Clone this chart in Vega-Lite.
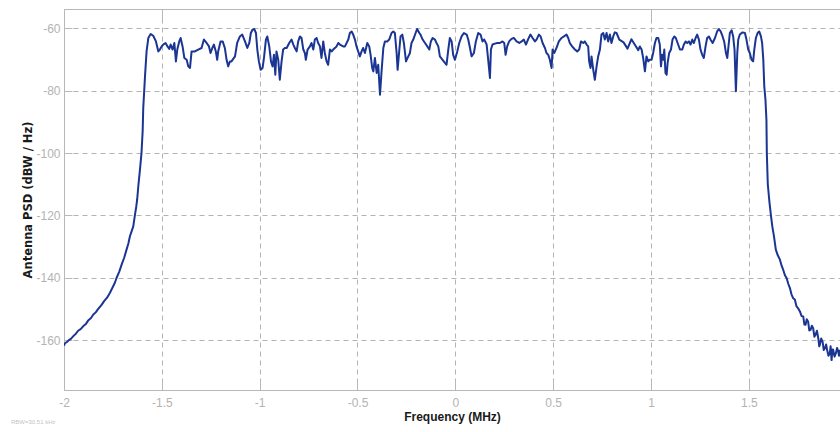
{
  "$schema": "https://vega.github.io/schema/vega-lite/v6.json",
  "width": 776,
  "height": 381,
  "autosize": {"type": "none"},
  "padding": {"left": 64, "top": 9, "right": 0, "bottom": 42},
  "background": "white",
  "config": {"view": {"stroke": null}},
  "title": {"text": "RBW=30.51 kHz", "orient": "bottom", "anchor": "start", "fontSize": 6, "color": "#c4c4c4", "font": "Liberation Sans", "fontWeight": "normal", "dx": -12, "offset": -3},
  "data": {"values": [
    {"f":-2.000,"p":-161.8},{"f":-1.995,"p":-161.0},{"f":-1.985,"p":-160.6},{"f":-1.975,"p":-160.0},{"f":-1.965,"p":-159.6},{"f":-1.952,"p":-158.7},{"f":-1.940,"p":-158.0},{"f":-1.928,"p":-157.0},{"f":-1.915,"p":-156.5},{"f":-1.901,"p":-155.5},{"f":-1.888,"p":-154.8},{"f":-1.875,"p":-153.6},{"f":-1.862,"p":-152.9},{"f":-1.850,"p":-151.8},{"f":-1.838,"p":-151.1},{"f":-1.825,"p":-150.0},{"f":-1.807,"p":-148.6},{"f":-1.795,"p":-147.5},{"f":-1.780,"p":-146.4},{"f":-1.765,"p":-144.8},{"f":-1.750,"p":-142.9},{"f":-1.740,"p":-141.6},{"f":-1.731,"p":-140.0},{"f":-1.718,"p":-138.1},{"f":-1.705,"p":-135.7},{"f":-1.692,"p":-133.5},{"f":-1.680,"p":-130.9},{"f":-1.671,"p":-129.0},{"f":-1.663,"p":-126.7},{"f":-1.655,"p":-125.2},{"f":-1.646,"p":-123.5},{"f":-1.637,"p":-119.7},{"f":-1.631,"p":-117.3},{"f":-1.626,"p":-114.9},{"f":-1.620,"p":-110.5},{"f":-1.612,"p":-105.5},{"f":-1.604,"p":-100.0},{"f":-1.598,"p":-93.0},{"f":-1.595,"p":-85.6},{"f":-1.586,"p":-75.4},
    {"f":-1.578,"p":-67.4},{"f":-1.569,"p":-63.1},{"f":-1.557,"p":-61.8},{"f":-1.544,"p":-62.4},{"f":-1.530,"p":-64.2},{"f":-1.518,"p":-67.4},{"f":-1.510,"p":-66.8},{"f":-1.501,"p":-65.8},{"f":-1.493,"p":-65.2},{"f":-1.481,"p":-64.7},{"f":-1.471,"p":-65.8},{"f":-1.462,"p":-66.6},{"f":-1.455,"p":-65.2},{"f":-1.445,"p":-66.8},{"f":-1.436,"p":-64.7},{"f":-1.428,"p":-70.6},{"f":-1.421,"p":-66.8},{"f":-1.411,"p":-64.2},{"f":-1.404,"p":-63.1},{"f":-1.394,"p":-65.8},{"f":-1.385,"p":-69.5},{"f":-1.373,"p":-70.1},{"f":-1.365,"p":-72.2},{"f":-1.356,"p":-72.7},{"f":-1.348,"p":-67.4},{"f":-1.331,"p":-67.4},{"f":-1.314,"p":-66.8},{"f":-1.297,"p":-66.3},{"f":-1.285,"p":-63.6},{"f":-1.271,"p":-64.7},{"f":-1.259,"p":-65.8},{"f":-1.251,"p":-67.9},{"f":-1.242,"p":-66.3},{"f":-1.234,"p":-65.2},{"f":-1.224,"p":-67.4},{"f":-1.217,"p":-70.1},{"f":-1.212,"p":-67.4},{"f":-1.200,"p":-64.2},{"f":-1.189,"p":-64.2},{"f":-1.178,"p":-66.3},{"f":-1.169,"p":-70.1},{"f":-1.161,"p":-72.2},{"f":-1.152,"p":-70.6},{"f":-1.144,"p":-70.6},{"f":-1.126,"p":-69.0},{"f":-1.115,"p":-64.7},{"f":-1.101,"p":-62.6},{"f":-1.089,"p":-62.0},{"f":-1.075,"p":-64.2},{"f":-1.063,"p":-66.3},{"f":-1.053,"p":-64.7},{"f":-1.045,"p":-61.5},{"f":-1.036,"p":-60.4},{"f":-1.028,"p":-60.2},{"f":-1.019,"p":-61.5},{"f":-1.012,"p":-66.8},{"f":-1.004,"p":-70.6},{"f":-0.995,"p":-73.3},{"f":-0.985,"p":-72.7},{"f":-0.978,"p":-69.5},{"f":-0.968,"p":-63.6},{"f":-0.961,"p":-62.6},{"f":-0.951,"p":-65.8},{"f":-0.942,"p":-70.6},{"f":-0.934,"p":-72.2},{"f":-0.927,"p":-68.5},{"f":-0.920,"p":-74.9},{"f":-0.914,"p":-67.4},{"f":-0.905,"p":-70.1},{"f":-0.897,"p":-76.5},{"f":-0.888,"p":-70.6},{"f":-0.880,"p":-66.8},{"f":-0.871,"p":-66.3},{"f":-0.862,"p":-66.3},{"f":-0.849,"p":-64.7},{"f":-0.837,"p":-63.6},{"f":-0.828,"p":-65.2},{"f":-0.820,"p":-66.3},{"f":-0.811,"p":-67.4},{"f":-0.803,"p":-64.2},{"f":-0.794,"p":-62.6},{"f":-0.786,"p":-63.1},{"f":-0.777,"p":-66.8},{"f":-0.769,"p":-67.9},{"f":-0.764,"p":-70.1},{"f":-0.755,"p":-66.8},{"f":-0.743,"p":-65.8},{"f":-0.735,"p":-64.7},{"f":-0.726,"p":-66.8},{"f":-0.718,"p":-63.6},{"f":-0.709,"p":-63.1},{"f":-0.701,"p":-64.7},{"f":-0.692,"p":-65.8},{"f":-0.684,"p":-69.5},{"f":-0.675,"p":-64.2},{"f":-0.667,"p":-67.9},{"f":-0.658,"p":-70.6},{"f":-0.650,"p":-71.7},{"f":-0.641,"p":-66.8},{"f":-0.632,"p":-67.4},{"f":-0.624,"p":-66.8},{"f":-0.607,"p":-65.8},{"f":-0.598,"p":-64.7},{"f":-0.590,"p":-65.2},{"f":-0.573,"p":-65.8},{"f":-0.564,"p":-65.8},{"f":-0.547,"p":-63.6},{"f":-0.539,"p":-61.5},{"f":-0.530,"p":-61.0},{"f":-0.522,"p":-62.0},{"f":-0.513,"p":-63.6},{"f":-0.505,"p":-65.8},{"f":-0.488,"p":-69.0},{"f":-0.479,"p":-67.4},{"f":-0.471,"p":-66.3},{"f":-0.462,"p":-67.9},{"f":-0.450,"p":-64.7},{"f":-0.440,"p":-65.8},{"f":-0.433,"p":-68.5},{"f":-0.425,"p":-72.7},
    {"f":-0.419,"p":-73.8},{"f":-0.411,"p":-69.5},{"f":-0.402,"p":-74.3},{"f":-0.394,"p":-71.7},{"f":-0.385,"p":-81.3},{"f":-0.377,"p":-73.8},{"f":-0.368,"p":-66.3},{"f":-0.360,"p":-64.2},{"f":-0.348,"p":-64.2},{"f":-0.338,"p":-63.6},{"f":-0.326,"p":-61.5},{"f":-0.317,"p":-61.0},{"f":-0.309,"p":-61.5},{"f":-0.300,"p":-67.9},{"f":-0.295,"p":-73.3},{"f":-0.286,"p":-66.8},{"f":-0.280,"p":-62.6},{"f":-0.271,"p":-62.0},{"f":-0.263,"p":-64.7},{"f":-0.252,"p":-70.6},{"f":-0.244,"p":-69.5},{"f":-0.232,"p":-67.9},{"f":-0.224,"p":-64.7},{"f":-0.215,"p":-63.6},{"f":-0.203,"p":-61.5},{"f":-0.195,"p":-60.2},{"f":-0.184,"p":-61.5},{"f":-0.178,"p":-62.0},{"f":-0.167,"p":-63.6},{"f":-0.155,"p":-64.7},{"f":-0.143,"p":-65.8},{"f":-0.133,"p":-66.8},{"f":-0.125,"p":-64.2},{"f":-0.116,"p":-63.1},{"f":-0.104,"p":-63.6},{"f":-0.096,"p":-64.7},{"f":-0.087,"p":-65.8},{"f":-0.079,"p":-69.0},{"f":-0.065,"p":-70.1},{"f":-0.053,"p":-71.1},{"f":-0.045,"p":-71.7},{"f":-0.036,"p":-66.8},{"f":-0.028,"p":-63.1},{"f":-0.019,"p":-64.2},{"f":-0.011,"p":-68.5},{"f":-0.002,"p":-70.1},{"f":0.010,"p":-67.4},{"f":0.020,"p":-64.7},{"f":0.032,"p":-62.6},{"f":0.044,"p":-61.5},{"f":0.058,"p":-62.0},{"f":0.066,"p":-63.6},{"f":0.075,"p":-66.3},{"f":0.083,"p":-69.0},{"f":0.095,"p":-67.9},{"f":0.105,"p":-64.2},{"f":0.117,"p":-61.5},{"f":0.129,"p":-62.0},{"f":0.139,"p":-64.2},{"f":0.148,"p":-63.6},{"f":0.160,"p":-65.2},{"f":0.168,"p":-70.1},{"f":0.177,"p":-75.9},{"f":0.182,"p":-66.8},{"f":0.190,"p":-65.2},{"f":0.202,"p":-64.9},{"f":0.214,"p":-64.7},{"f":0.228,"p":-64.7},{"f":0.241,"p":-64.2},{"f":0.250,"p":-64.7},{"f":0.257,"p":-68.5},{"f":0.265,"p":-65.8},{"f":0.275,"p":-64.2},{"f":0.287,"p":-63.4},{"f":0.299,"p":-63.1},{"f":0.313,"p":-64.2},{"f":0.327,"p":-64.7},{"f":0.339,"p":-64.2},{"f":0.350,"p":-63.6},{"f":0.361,"p":-65.2},{"f":0.373,"p":-63.4},{"f":0.384,"p":-62.0},{"f":0.395,"p":-63.1},{"f":0.407,"p":-64.2},{"f":0.415,"p":-63.6},{"f":0.427,"p":-62.0},{"f":0.436,"p":-62.6},{"f":0.446,"p":-64.7},{"f":0.458,"p":-66.3},{"f":0.466,"p":-67.9},{"f":0.475,"p":-68.5},{"f":0.483,"p":-70.1},{"f":0.492,"p":-72.7},{"f":0.497,"p":-66.8},{"f":0.506,"p":-67.9},{"f":0.517,"p":-66.3},{"f":0.529,"p":-64.2},{"f":0.543,"p":-63.1},{"f":0.555,"p":-62.6},{"f":0.568,"p":-62.0},{"f":0.577,"p":-63.1},{"f":0.585,"p":-64.7},{"f":0.597,"p":-65.8},{"f":0.611,"p":-66.8},{"f":0.623,"p":-67.4},{"f":0.633,"p":-66.8},{"f":0.642,"p":-64.2},{"f":0.654,"p":-64.7},{"f":0.662,"p":-64.2},{"f":0.671,"p":-65.2},{"f":0.679,"p":-65.8},{"f":0.684,"p":-70.6},{"f":0.691,"p":-72.7},{"f":0.696,"p":-69.0},{"f":0.705,"p":-73.3},{"f":0.713,"p":-76.5},{"f":0.722,"p":-72.2},{"f":0.730,"p":-69.0},{"f":0.739,"p":-66.8},{"f":0.747,"p":-62.0},{"f":0.756,"p":-61.5},{"f":0.764,"p":-63.6},{"f":0.773,"p":-61.5},{"f":0.781,"p":-64.2},{"f":0.790,"p":-62.0},{"f":0.798,"p":-64.7},{"f":0.807,"p":-62.6},{"f":0.815,"p":-61.3},{"f":0.824,"p":-61.5},{"f":0.838,"p":-63.6},
    {"f":0.860,"p":-64.5},{"f":0.880,"p":-66.5},{"f":0.900,"p":-63.5},{"f":0.920,"p":-65.5},{"f":0.935,"p":-67.0},
    {"f":0.943,"p":-65.8},{"f":0.952,"p":-66.8},{"f":0.960,"p":-69.5},{"f":0.969,"p":-73.8},{"f":0.977,"p":-69.0},{"f":0.986,"p":-70.6},{"f":0.994,"p":-70.1},{"f":1.003,"p":-70.1},{"f":1.011,"p":-67.9},{"f":1.020,"p":-64.7},{"f":1.028,"p":-63.1},{"f":1.037,"p":-63.1},{"f":1.045,"p":-65.2},{"f":1.051,"p":-72.2},{"f":1.057,"p":-68.5},{"f":1.063,"p":-70.1},{"f":1.068,"p":-66.8},{"f":1.074,"p":-74.3},{"f":1.080,"p":-74.9},{"f":1.085,"p":-71.1},{"f":1.093,"p":-67.9},{"f":1.102,"p":-66.8},{"f":1.110,"p":-63.6},{"f":1.119,"p":-62.6},{"f":1.127,"p":-63.1},{"f":1.136,"p":-64.7},{"f":1.148,"p":-66.8},{"f":1.160,"p":-66.8},{"f":1.168,"p":-65.2},{"f":1.177,"p":-64.2},{"f":1.185,"p":-64.7},{"f":1.194,"p":-64.2},{"f":1.202,"p":-65.2},{"f":1.211,"p":-63.6},{"f":1.219,"p":-64.7},{"f":1.228,"p":-63.1},{"f":1.236,"p":-62.0},{"f":1.245,"p":-63.6},{"f":1.253,"p":-66.8},{"f":1.262,"p":-68.5},{"f":1.270,"p":-69.5},{"f":1.279,"p":-65.8},{"f":1.287,"p":-63.1},{"f":1.296,"p":-62.6},{"f":1.304,"p":-63.6},{"f":1.315,"p":-64.7},{"f":1.327,"p":-63.1},{"f":1.338,"p":-61.0},{"f":1.347,"p":-60.2},{"f":1.356,"p":-61.0},{"f":1.366,"p":-62.6},{"f":1.374,"p":-64.2},{"f":1.383,"p":-67.9},{"f":1.390,"p":-69.5},{"f":1.396,"p":-65.8},{"f":1.403,"p":-61.5},{"f":1.412,"p":-60.6},{"f":1.420,"p":-62.6},{"f":1.427,"p":-66.8},{"f":1.434,"p":-80.2},{"f":1.441,"p":-67.9},{"f":1.446,"p":-63.6},{"f":1.454,"p":-62.0},{"f":1.468,"p":-61.3},{"f":1.480,"p":-61.5},{"f":1.488,"p":-63.6},{"f":1.497,"p":-66.8},{"f":1.505,"p":-67.9},{"f":1.514,"p":-70.1},{"f":1.522,"p":-70.6},{"f":1.528,"p":-66.8},{"f":1.536,"p":-63.1},{"f":1.545,"p":-61.5},{"f":1.553,"p":-61.0},{"f":1.562,"p":-62.6},{"f":1.568,"p":-64.7},{"f":1.574,"p":-70.1},{"f":1.579,"p":-78.6},{"f":1.585,"p":-82.9},{"f":1.590,"p":-89.3},
    {"f":1.592,"p":-100.0},{"f":1.597,"p":-110.0},{"f":1.605,"p":-115.5},{"f":1.613,"p":-120.0},{"f":1.620,"p":-123.5},{"f":1.628,"p":-126.5},{"f":1.638,"p":-131.0},{"f":1.648,"p":-132.8},{"f":1.659,"p":-134.2},{"f":1.668,"p":-136.2},{"f":1.676,"p":-137.5},{"f":1.685,"p":-139.3},{"f":1.693,"p":-140.1},{"f":1.702,"p":-142.0},{"f":1.710,"p":-143.3},{"f":1.718,"p":-145.3},{"f":1.727,"p":-146.6},{"f":1.735,"p":-147.0},{"f":1.744,"p":-149.2},{"f":1.752,"p":-149.8},{"f":1.761,"p":-150.8},{"f":1.770,"p":-152.3},{"f":1.778,"p":-152.4},{"f":1.784,"p":-155.0},{"f":1.790,"p":-155.1},{"f":1.796,"p":-153.3},{"f":1.803,"p":-154.0},{"f":1.809,"p":-156.9},{"f":1.816,"p":-156.7},{"f":1.822,"p":-155.4},{"f":1.829,"p":-156.2},{"f":1.835,"p":-158.9},{"f":1.841,"p":-158.3},{"f":1.848,"p":-157.0},{"f":1.855,"p":-159.4},{"f":1.860,"p":-162.0},{"f":1.863,"p":-161.5},{"f":1.870,"p":-159.5},{"f":1.877,"p":-160.5},{"f":1.883,"p":-163.2},{"f":1.889,"p":-162.6},{"f":1.895,"p":-161.4},{"f":1.900,"p":-163.1},{"f":1.907,"p":-165.0},{"f":1.914,"p":-164.2},{"f":1.918,"p":-162.0},{"f":1.923,"p":-166.4},{"f":1.927,"p":-163.0},{"f":1.931,"p":-163.1},{"f":1.938,"p":-165.3},{"f":1.945,"p":-164.2},{"f":1.951,"p":-162.5},{"f":1.957,"p":-163.7},{"f":1.961,"p":-165.0},{"f":1.965,"p":-163.1}
  ]},
  "encoding": {
    "y": {
      "field": "p", "type": "quantitative",
      "scale": {"domain": [-176, -53.8], "nice": false, "zero": false},
      "axis": {
        "values": [-160, -140, -120, -100, -80, -60],
        "labelExpr": "'' + datum.value",
        "labelFlush": false,
        "tickSize": -8, "labelPadding": 12,
        "tickColor": "#b8b8b8", "domainColor": "#b8b8b8",
        "labelColor": "#b3b3b3", "labelFont": "Liberation Sans", "labelFontSize": 12,
        "grid": true, "gridColor": "#b3b3b3", "gridDash": [5, 4],
        "title": "Antenna PSD (dBW / Hz)", "titleFont": "DejaVu Sans", "titleFontSize": 11.5, "titleFontWeight": "bold", "titleColor": "#1a1a1a", "titlePadding": 2
      }
    }
  },
  "layer": [
    {
      "mark": {"type": "line", "color": "#1b3593", "strokeWidth": 2, "strokeJoin": "round", "clip": true},
      "encoding": {
        "x": {
          "field": "f", "type": "quantitative",
          "scale": {"domain": [-2, 1.966], "nice": false, "zero": false},
          "axis": {
            "orient": "bottom",
            "values": [-2, -1.5, -1, -0.5, 0, 0.5, 1, 1.5],
            "labelExpr": "'' + datum.value",
            "labelFlush": false,
            "tickSize": -10, "labelPadding": 17,
            "tickColor": "#b8b8b8", "domainColor": "#b8b8b8",
            "labelColor": "#b3b3b3", "labelFont": "Liberation Sans", "labelFontSize": 12,
            "grid": true, "gridColor": "#b3b3b3", "gridDash": [5, 4],
            "title": "Frequency (MHz)", "titleFont": "Liberation Sans", "titleFontSize": 12, "titleFontWeight": "bold", "titleColor": "#1a1a1a", "titlePadding": 3
          }
        }
      }
    },
    {
      "mark": {"type": "line", "strokeOpacity": 0},
      "encoding": {
        "x": {
          "field": "f", "type": "quantitative",
          "axis": {
            "orient": "top",
            "values": [-2, -1.5, -1, -0.5, 0, 0.5, 1, 1.5],
            "labels": false, "grid": false, "title": null,
            "tickSize": -10, "tickColor": "#b8b8b8", "domainColor": "#b8b8b8"
          }
        }
      }
    }
  ],
  "resolve": {"axis": {"x": "independent"}}
}
